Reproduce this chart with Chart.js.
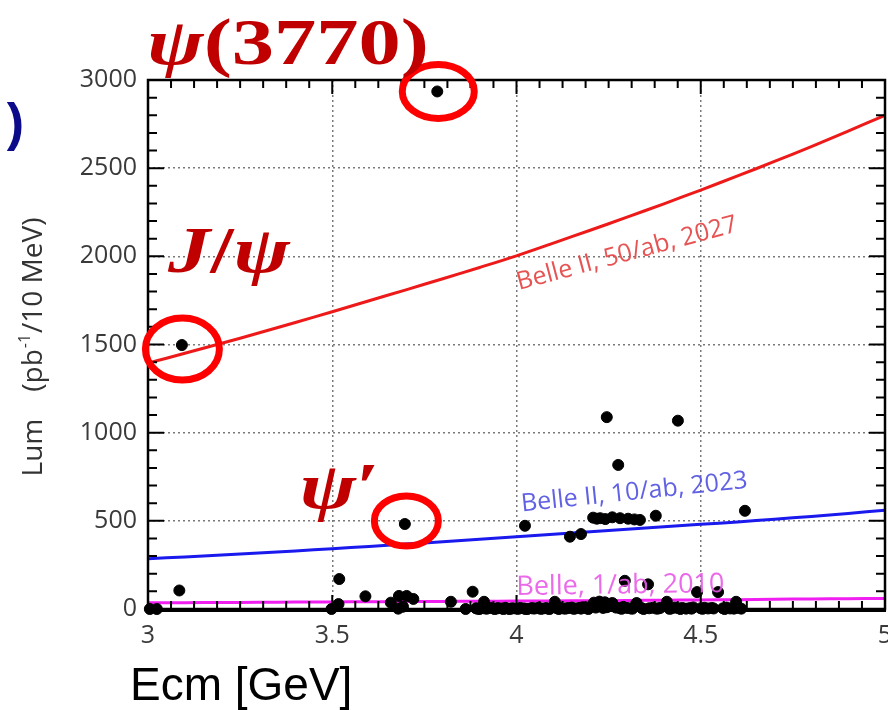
<!DOCTYPE html>
<html>
<head>
<meta charset="utf-8">
<script src="https://cdn.jsdelivr.net/npm/chart.js@4.4.1/dist/chart.umd.min.js"></script>
<style>
    html, body { margin: 0; padding: 0; background: #fff; overflow: hidden; width: 888px; height: 710px; }
    #wrap { position: relative; width: 910px; height: 710px; }
</style>
</head>
<body>
<div id="wrap"><canvas id="lum-chart" width="910" height="710"></canvas></div>
<script>
// 扫描能点 (GeV) 与每个能点的积分亮度 (pb^-1 / 10 MeV)
const scanEnergy = [
    3.005, 3.024, 3.085, 3.092,
    3.498, 3.517, 3.519, 3.590, 3.659, 3.679, 3.681, 3.692, 3.697, 3.702, 3.720,
    3.785, 3.822, 3.862, 3.881, 3.912,
    3.890, 3.900, 3.905, 3.920, 3.930, 3.940, 3.950, 3.960, 3.970, 3.980, 3.990,
    4.000, 4.010, 4.020, 4.030, 4.041, 4.050, 4.060, 4.070, 4.080, 4.090, 4.104,
    4.110, 4.120, 4.130, 4.140, 4.150, 4.160, 4.170, 4.180, 4.190, 4.200, 4.210,
    4.215, 4.220, 4.225, 4.230, 4.235, 4.240, 4.245, 4.250, 4.260, 4.270, 4.280,
    4.290, 4.294, 4.300, 4.310, 4.326, 4.340, 4.357, 4.360, 4.370, 4.380, 4.390,
    4.408, 4.420, 4.430, 4.440, 4.450, 4.460, 4.470, 4.480, 4.490, 4.500, 4.510,
    4.520, 4.530, 4.547, 4.560, 4.570, 4.580, 4.596, 4.600, 4.610,
    3.895, 3.915, 3.945, 3.965, 3.985, 4.005, 4.025, 4.045, 4.065, 4.085, 4.115,
    4.135, 4.155, 4.175, 4.195, 4.285, 4.315, 4.345, 4.385, 4.415, 4.445, 4.475,
    4.505, 4.535, 4.565, 4.590,
    4.023, 4.145, 4.175, 4.208, 4.218, 4.227, 4.241, 4.245, 4.260, 4.276, 4.281,
    4.303, 4.320, 4.335, 4.378, 4.438, 4.620
];
const scanLum = [
    0, 0, 105, 1497,
    0, 28, 170, 72, 36, 2, 74, 13, 482, 74, 57,
    2935, 41, 0, 98, 41,
    4, 0, 8, 2, 6, 0, 5, 3, 7, 0, 4,
    2, 6, 3, 0, 5, 3, 7, 2, 5, 0, 41,
    4, 6, 2, 5, 8, 3, 6, 10, 4, 12, 36,
    8, 30, 42, 14, 6, 38, 10, 28, 34, 8, 5,
    12, 160, 6, 3, 34, 5, 140, 4, 7, 2, 6,
    41, 3, 8, 4, 6, 2, 5, 9, 96, 4, 7,
    3, 6, 96, 4, 8, 3, 41, 6, 2,
    1, 3, 2, 0, 2, 1, 0, 3, 1, 2, 0,
    3, 1, 2, 0, 1, 2, 0, 3, 1, 0, 2,
    1, 3, 0, 2,
    472, 410, 425, 518, 512, 515, 510, 1088, 520, 817, 515,
    512, 508, 505, 529, 1068, 557
];

// 三条预期亮度曲线
const curveEnergy = [3.0, 3.1, 3.2, 3.3, 3.4, 3.5, 3.6, 3.7, 3.8, 3.9, 4.0,
                     4.1, 4.2, 4.3, 4.4, 4.5, 4.6, 4.7, 4.8, 4.9, 5.0];
const belle2_50ab = [1395, 1450, 1507, 1565, 1625, 1686, 1748, 1810, 1873, 1937, 2003,
                     2075, 2148, 2222, 2298, 2376, 2456, 2538, 2622, 2710, 2800];
const belle2_10ab = [285, 295, 306, 317, 329, 342, 355, 368, 381, 395, 410,
                     424, 438, 452, 466, 480, 494, 509, 525, 542, 560];
const belle_1ab   = [35, 36, 37, 38, 39, 40, 41, 42, 43, 44, 45,
                     46, 47, 48, 50, 51, 53, 55, 57, 58, 60];

const curveNames = ['Belle II, 50/ab, 2027', 'Belle II, 10/ab, 2023', 'Belle, 1/ab, 2010'];

// 坐标轴刻度
const xTickLabels = ['3', '3.5', '4', '4.5', '5'];
const yTickLabels = ['0', '500', '1000', '1500', '2000', '2500', '3000'];

const toPoints = (xs, ys) => xs.map((x, i) => ({ x: x, y: ys[i] }));

// 边框、内向刻度、标注
const framePlugin = {
    id: 'frameAndNotes',
    afterDraw(chart) {
        const { ctx, chartArea: a, scales } = chart;
        const sx = scales.x, sy = scales.y;
        ctx.save();

        // 边框
        ctx.strokeStyle = '#000';
        ctx.lineWidth = 2.5;
        ctx.strokeRect(a.left, a.top, a.right - a.left, a.bottom - a.top);
        ctx.lineWidth = 4;
        ctx.beginPath();
        ctx.moveTo(a.left - 1, a.bottom + 1);
        ctx.lineTo(a.right + 1, a.bottom + 1);
        ctx.stroke();

        // x 方向刻度 (上下)
        ctx.lineWidth = 2;
        for (let i = 0; i <= 32; i++) {
            const px = sx.getPixelForValue(3 + i * 0.0625);
            const len = (i % 8 === 0) ? 14 : 8;
            ctx.beginPath();
            ctx.moveTo(px, a.bottom); ctx.lineTo(px, a.bottom - len);
            ctx.moveTo(px, a.top); ctx.lineTo(px, a.top + len);
            ctx.stroke();
        }
        // y 方向刻度 (左右)
        for (let i = 0; i <= 30; i++) {
            const py = sy.getPixelForValue(i * 100);
            const len = (i % 5 === 0) ? 16 : 9;
            ctx.beginPath();
            ctx.moveTo(a.left, py); ctx.lineTo(a.left + len, py);
            ctx.moveTo(a.right, py); ctx.lineTo(a.right - len, py);
            ctx.stroke();
        }

        // 曲线标签
        const lineLabel = (text, e, lum, deg, color, size) => {
            ctx.save();
            ctx.translate(sx.getPixelForValue(e), sy.getPixelForValue(lum));
            ctx.rotate(deg * Math.PI / 180);
            ctx.font = size + 'px "Open Sans"';
            ctx.fillStyle = color;
            ctx.textBaseline = 'alphabetic';
            ctx.fillText(text, 0, 0);
            ctx.restore();
        };
        lineLabel(curveNames[0], 4.007, 1809, -15, 'rgba(228,64,64,0.9)', 25);
        lineLabel(curveNames[1], 4.015, 553, -6, 'rgba(80,80,225,0.9)', 25);
        lineLabel(curveNames[2], 4.000, 80, -0.8, 'rgba(232,90,232,0.9)', 27);

        // 轴标题
        ctx.fillStyle = '#333';
        ctx.save();
        ctx.translate(42, 347);
        ctx.rotate(-Math.PI / 2);
        ctx.font = '28px "Open Sans"';
        const p1 = 'Lum', p2 = '(pb', p3 = '/10 MeV)', gap = 27;
        const w1 = ctx.measureText(p1).width, w2 = ctx.measureText(p2).width, w3 = ctx.measureText(p3).width;
        ctx.font = '16px "Open Sans"';
        const wSup = ctx.measureText('-1').width + 2;
        let cx = -(w1 + gap + w2 + wSup + w3) / 2;
        ctx.font = '28px "Open Sans"';
        ctx.fillText(p1, cx, 0); cx += w1 + gap;
        ctx.fillText(p2, cx, 0); cx += w2;
        ctx.font = '16px "Open Sans"';
        ctx.fillText('-1', cx + 1, -12); cx += wSup;
        ctx.font = '28px "Open Sans"';
        ctx.fillText(p3, cx, 0);
        ctx.restore();

        ctx.fillStyle = '#000';
        ctx.font = '46px "Liberation Sans"';
        ctx.fillText('Ecm [GeV]', 130, 700);

        // 共振峰标注: 红色椭圆 + 文字
        const peaks = [
            { e: 3.785, lum: 2935, dx: 1, dy: 0, rx: 36, ry: 27 },
            { e: 3.092, lum: 1497, dx: 0.5, dy: 4, rx: 37, ry: 31 },
            { e: 3.697, lum: 482, dx: 1.5, dy: -3, rx: 32, ry: 25 }
        ];
        ctx.strokeStyle = '#ff0000';
        ctx.lineWidth = 7;
        peaks.forEach(p => {
            ctx.beginPath();
            ctx.ellipse(sx.getPixelForValue(p.e) + p.dx, sy.getPixelForValue(p.lum) + p.dy, p.rx, p.ry, 0, 0, Math.PI * 2);
            ctx.stroke();
        });

        const mathText = (parts, px, py) => {
            ctx.save();
            ctx.translate(px, py);
            ctx.scale(1.28, 1);
            ctx.fillStyle = '#c00000';
            let cx = 0;
            parts.forEach(([t, italic]) => {
                ctx.font = (italic ? 'italic ' : '') + 'bold 66px "Liberation Serif"';
                ctx.fillText(t, cx, 0);
                cx += ctx.measureText(t).width;
            });
            ctx.restore();
        };
        const pk = i => [sx.getPixelForValue(peaks[i].e), sy.getPixelForValue(peaks[i].lum)];
        let [qx, qy] = pk(0);
        mathText([['\u03c8', true], ['(3770)', false]], qx - 290, qy - 27);
        [qx, qy] = pk(1);
        mathText([['J', true], ['/', false], ['\u03c8', true]], qx - 14, qy - 73);
        [qx, qy] = pk(2);
        mathText([['\u03c8', true], ['\u2032', false]], qx - 105, qy - 16);

        // 左上角被裁掉的蓝色括号
        ctx.fillStyle = '#0c0c8a';
        ctx.font = 'bold 52px "Liberation Sans"';
        ctx.textAlign = 'right';
        ctx.fillText(')', 24, 140);

        ctx.restore();
    }
};

document.addEventListener('DOMContentLoaded', () => {
    const ctx = document.getElementById('lum-chart').getContext('2d');
    const gridColor = (edgeA, edgeB) => c =>
        (c.tick && (c.tick.value === edgeA || c.tick.value === edgeB)) ? 'rgba(0,0,0,0)' : '#7a7a7a';
    const tickFont = { family: '"Open Sans"', size: 25 };

    new Chart(ctx, {
        type: 'scatter',
        data: {
            datasets: [
                {
                    label: 'Scan data',
                    data: toPoints(scanEnergy, scanLum),
                    backgroundColor: '#000',
                    borderColor: '#000',
                    pointRadius: 5.5,
                    pointHoverRadius: 5.5,
                    clip: 10,
                    order: 0
                },
                {
                    label: curveNames[0],
                    data: toPoints(curveEnergy, belle2_50ab),
                    showLine: true, pointRadius: 0, tension: 0.3,
                    borderColor: '#ee1a1a', borderWidth: 3, order: 1
                },
                {
                    label: curveNames[1],
                    data: toPoints(curveEnergy, belle2_10ab),
                    showLine: true, pointRadius: 0, tension: 0.3,
                    borderColor: '#1a1aee', borderWidth: 3, order: 1
                },
                {
                    label: curveNames[2],
                    data: toPoints(curveEnergy, belle_1ab),
                    showLine: true, pointRadius: 0, tension: 0.3,
                    borderColor: '#f01ef0', borderWidth: 3, order: 1
                }
            ]
        },
        options: {
            responsive: false,
            animation: false,
            layout: { padding: { top: 80, right: 25, left: 0, bottom: 0 } },
            plugins: { legend: { display: false }, tooltip: { enabled: false } },
            scales: {
                x: {
                    type: 'linear', min: 3, max: 5,
                    afterFit(s) { s.height = 101; },
                    ticks: {
                        stepSize: 0.5, padding: 12, color: '#3a3a3a', font: tickFont,
                        maxRotation: 0, autoSkip: false,
                        callback: (v, i) => xTickLabels[i]
                    },
                    grid: { drawTicks: false, lineWidth: 1.5, color: gridColor(3, 5) },
                    border: { display: false, dash: [2, 3] }
                },
                y: {
                    min: 0, max: 3000,
                    afterFit(s) { s.width = 148; },
                    ticks: {
                        stepSize: 500, padding: 11, color: '#3a3a3a', font: tickFont,
                        callback: (v, i) => yTickLabels[i]
                    },
                    grid: { drawTicks: false, lineWidth: 1.5, color: gridColor(0, 3000) },
                    border: { display: false, dash: [2, 3] }
                }
            }
        },
        plugins: [framePlugin]
    });
});
</script>
</body>
</html>
